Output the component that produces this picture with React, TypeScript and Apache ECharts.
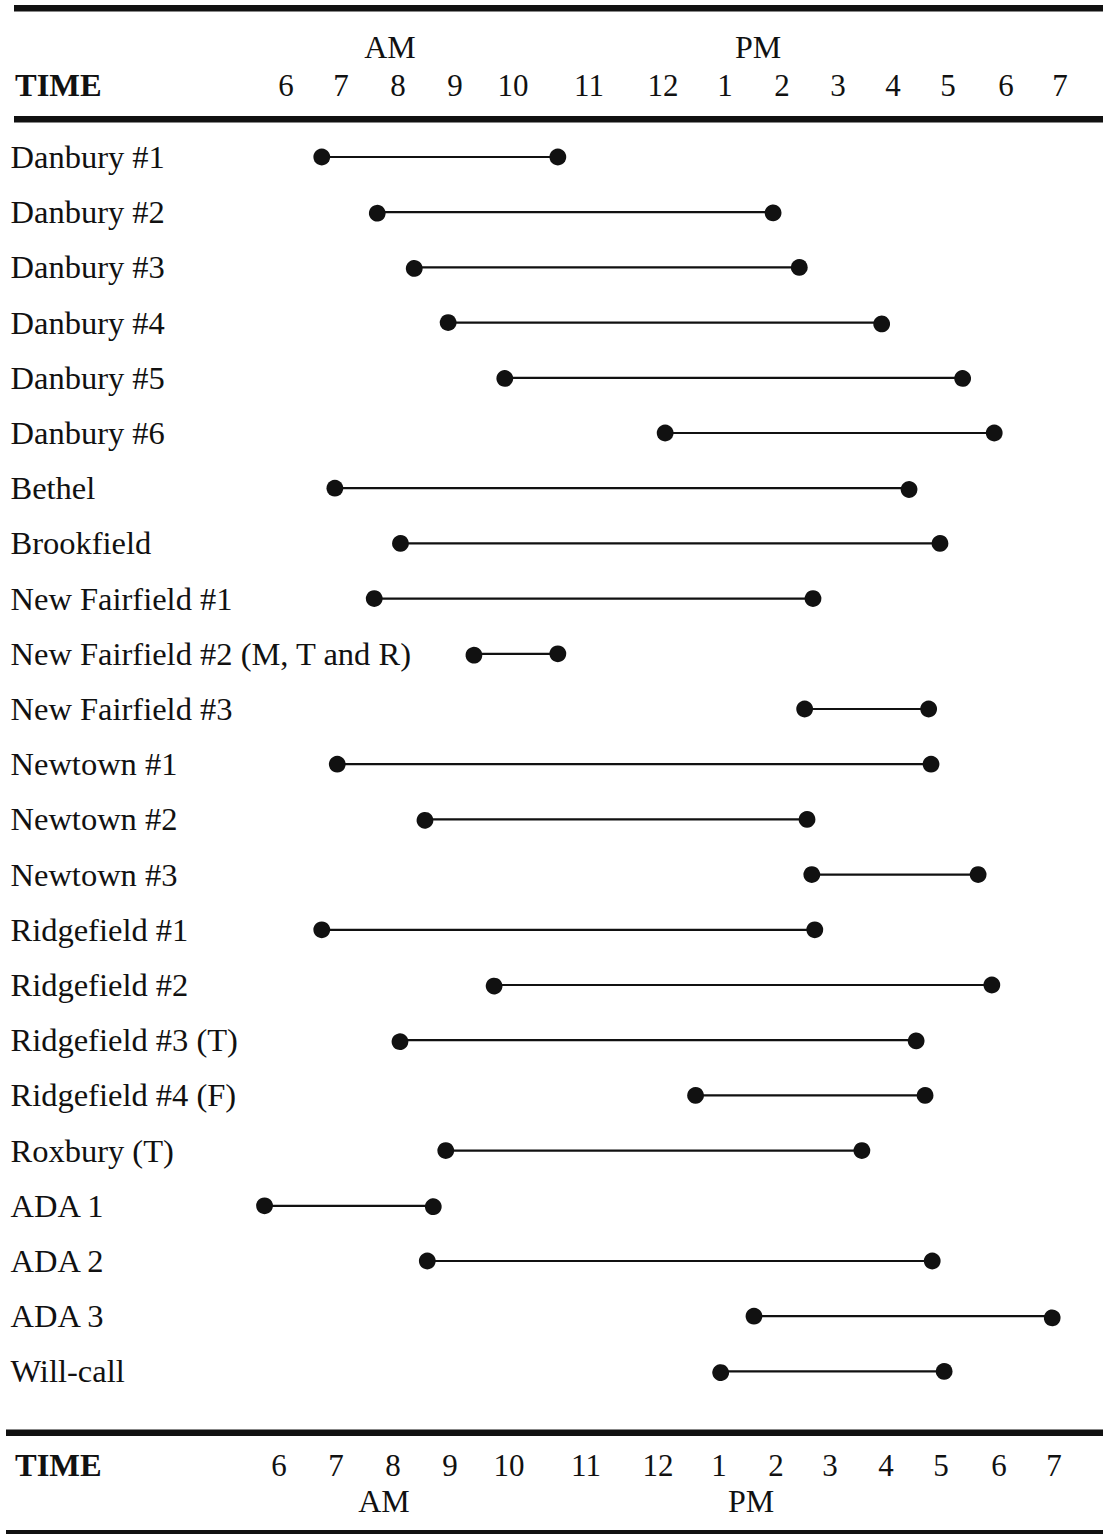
import React, { useEffect, useRef } from "react";
import * as echarts from "echarts";

// Routes (rows, top to bottom)
const routes = [
  "Danbury #1",
  "Danbury #2",
  "Danbury #3",
  "Danbury #4",
  "Danbury #5",
  "Danbury #6",
  "Bethel",
  "Brookfield",
  "New Fairfield #1",
  "New Fairfield #2 (M, T and R)",
  "New Fairfield #3",
  "Newtown #1",
  "Newtown #2",
  "Newtown #3",
  "Ridgefield #1",
  "Ridgefield #2",
  "Ridgefield #3 (T)",
  "Ridgefield #4 (F)",
  "Roxbury (T)",
  "ADA 1",
  "ADA 2",
  "ADA 3",
  "Will-call",
];

// Start / end of each run, in hours of the day
const startTimes = [
  6.6, 7.53, 8.15, 8.72, 9.67, 12.36, 6.82, 7.92, 7.48, 9.15, 14.7, 6.86, 8.33,
  14.82, 6.6, 9.49, 7.91, 12.87, 8.68, 5.64, 8.37, 13.85, 13.29,
];
const endTimes = [
  10.56, 14.17, 14.61, 15.99, 17.35, 17.88, 16.45, 16.97, 14.84, 10.56, 16.78,
  16.82, 14.74, 17.61, 14.87, 17.84, 16.57, 16.72, 15.66, 8.47, 16.84, 18.85,
  17.04,
];

// Hour tick labels (as typed in the header / footer)
const hourLabels = ["6", "7", "8", "9", "10", "11", "12", "1", "2", "3", "4", "5", "6", "7"];
const topTickAt = [
  6.0, 6.923, 7.879, 8.835, 9.808, 11.083, 12.324, 13.364, 14.32, 15.259, 16.182,
  17.105, 18.078, 18.983,
];
const bottomTickAt = [
  5.883, 6.839, 7.795, 8.751, 9.741, 11.032, 12.24, 13.263, 14.219, 15.125,
  16.065, 16.987, 17.96, 18.883,
];

const FONT = "'Liberation Serif', 'Times New Roman', serif";
const INK = "#111111";

function labelFor(ticks: number[]) {
  return (v: number) => {
    let best = 0;
    let bd = Infinity;
    for (let i = 0; i < ticks.length; i++) {
      const d = Math.abs(ticks[i] - v);
      if (d < bd) {
        bd = d;
        best = i;
      }
    }
    return hourLabels[best];
  };
}

export default function App() {
  const ref = useRef<HTMLDivElement>(null);

  useEffect(() => {
    document.body.style.margin = "0";
    if (!ref.current) return;
    const chart = echarts.init(ref.current, undefined, { renderer: "svg" });

    const data = routes.map((_, i) => [i, startTimes[i], endTimes[i]]);

    const hiddenAxisBits = {
      axisLine: { show: false },
      axisTick: { show: false },
      splitLine: { show: false },
    };

    const option: any = {
      animation: false,
      backgroundColor: "#ffffff",
      grid: { left: 256.19, width: 834.61, top: 129.4, height: 1269.6 },
      xAxis: [
        {
          type: "value",
          position: "bottom",
          min: 5.5,
          max: 19.5,
          ...hiddenAxisBits,
          axisLabel: {
            customValues: bottomTickAt,
            formatter: labelFor(bottomTickAt),
            margin: 66,
            verticalAlign: "middle",
            fontFamily: FONT,
            fontSize: 31,
            color: INK,
          },
        },
        {
          type: "value",
          position: "top",
          min: 5.5,
          max: 19.5,
          ...hiddenAxisBits,
          axisLabel: {
            customValues: topTickAt,
            formatter: labelFor(topTickAt),
            margin: 44.4,
            verticalAlign: "middle",
            fontFamily: FONT,
            fontSize: 31,
            color: INK,
          },
        },
      ],
      yAxis: {
        type: "category",
        data: routes,
        inverse: true,
        ...hiddenAxisBits,
        axisLabel: {
          interval: 0,
          align: "left",
          margin: 245.7,
          fontFamily: FONT,
          fontSize: 32.5,
          color: INK,
        },
      },
      series: [
        {
          type: "custom",
          xAxisIndex: 0,
          yAxisIndex: 0,
          encode: { x: [1, 2], y: 0 },
          data,
          clip: false,
          renderItem: (params: any, api: any) => {
            const row = api.value(0);
            const p1 = api.coord([api.value(1), row]);
            const p2 = api.coord([api.value(2), row]);
            return {
              type: "group",
              children: [
                {
                  type: "line",
                  shape: { x1: p1[0], y1: p1[1], x2: p2[0], y2: p2[1] },
                  style: { stroke: INK, lineWidth: 2.2 },
                },
                {
                  type: "circle",
                  shape: { cx: p1[0], cy: p1[1], r: 8.4 },
                  style: { fill: INK },
                },
                {
                  type: "circle",
                  shape: { cx: p2[0], cy: p2[1], r: 8.4 },
                  style: { fill: INK },
                },
              ],
            };
          },
        },
      ],
      graphic: [
        { type: "rect", shape: { x: 14, y: 5, width: 1089, height: 6.5 }, style: { fill: INK } },
        { type: "rect", shape: { x: 14, y: 116, width: 1089, height: 6.5 }, style: { fill: INK } },
        { type: "rect", shape: { x: 6, y: 1429.5, width: 1097, height: 6.5 }, style: { fill: INK } },
        { type: "rect", shape: { x: 6, y: 1530, width: 1097, height: 4 }, style: { fill: INK } },
        {
          type: "text",
          x: 15,
          y: 85,
          style: { text: "TIME", font: `bold 32.5px ${FONT}`, fill: INK, verticalAlign: "middle" },
        },
        {
          type: "text",
          x: 390,
          y: 47,
          style: { text: "AM", font: `32px ${FONT}`, fill: INK, align: "center", verticalAlign: "middle" },
        },
        {
          type: "text",
          x: 758,
          y: 47,
          style: { text: "PM", font: `32px ${FONT}`, fill: INK, align: "center", verticalAlign: "middle" },
        },
        {
          type: "text",
          x: 15,
          y: 1465,
          style: { text: "TIME", font: `bold 32.5px ${FONT}`, fill: INK, verticalAlign: "middle" },
        },
        {
          type: "text",
          x: 384,
          y: 1501,
          style: { text: "AM", font: `32px ${FONT}`, fill: INK, align: "center", verticalAlign: "middle" },
        },
        {
          type: "text",
          x: 751,
          y: 1501,
          style: { text: "PM", font: `32px ${FONT}`, fill: INK, align: "center", verticalAlign: "middle" },
        },
      ],
    };

    chart.setOption(option);
    return () => chart.dispose();
  }, []);

  return <div ref={ref} style={{ width: 1103, height: 1534 }} />;
}
